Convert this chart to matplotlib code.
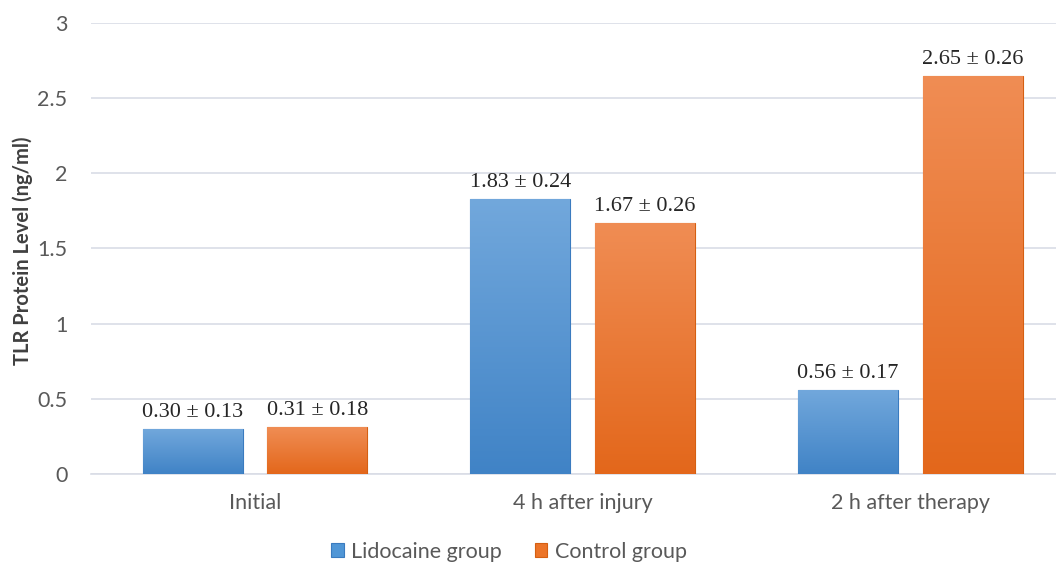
import matplotlib
matplotlib.use("Agg")
import matplotlib.pyplot as plt
import numpy as np
from matplotlib.colors import LinearSegmentedColormap

# ── data ──────────────────────────────────────────────────────────────────────
categories = ["Initial", "4 h after injury", "2 h after therapy"]
lidocaine = [0.30, 1.83, 0.56]
lidocaine_sd = [0.13, 0.24, 0.17]
control = [0.31, 1.67, 2.65]
control_sd = [0.18, 0.26, 0.26]
yticks = [0, 0.5, 1, 1.5, 2, 2.5, 3]
ytick_labels = ["0", "0.5", "1", "1.5", "2", "2.5", "3"]

# ── style ─────────────────────────────────────────────────────────────────────
SANS = ["Lato", "DejaVu Sans"]
SERIF = ["Liberation Serif", "DejaVu Serif"]
TXT = "#595959"
GRID = "#d9dde6"

fig = plt.figure(figsize=(10.56, 5.62), dpi=100)
ax = fig.add_axes([0.0862, 0.1566, 0.931, 0.8025])

x = np.arange(len(categories))
w = 0.305
off = 0.19


def gradient_bars(xpos, vals, top, bottom, edge, label):
    bars = ax.bar(xpos, vals, w, color=bottom, edgecolor=edge, linewidth=0.8,
                  label=label, zorder=3)
    cmap = LinearSegmentedColormap.from_list("g", [bottom, top])
    grad = np.linspace(0, 1, 256).reshape(-1, 1)
    for b in bars:
        x0, y0 = b.get_x(), b.get_y()
        im = ax.imshow(grad, cmap=cmap, aspect="auto", origin="lower",
                       extent=[x0, x0 + b.get_width(), y0, y0 + b.get_height()],
                       zorder=3.5, interpolation="bicubic")
        im.set_clip_path(b)
    return bars


b1 = gradient_bars(x - off, lidocaine, "#72a8dc", "#4083c6", "#3a7bbf", "Lidocaine group")
b2 = gradient_bars(x + off, control, "#f08d54", "#e3671b", "#d55f12", "Control group")

for bars, vals, sds in [(b1, lidocaine, lidocaine_sd), (b2, control, control_sd)]:
    for b, v, s in zip(bars, vals, sds):
        ax.annotate(f"{v:.2f} ± {s:.2f}", (b.get_x() + b.get_width() / 2, v),
                    xytext=(0, 5), textcoords="offset points", ha="center",
                    va="bottom", fontsize=16, family=SERIF, color="#262626",
                    zorder=5)

ax.set_xlim(-0.5, 2.5)
ax.set_ylim(0, 3)
ax.set_yticks(yticks)
ax.set_yticklabels(ytick_labels, family=SANS, fontsize=15.5, color=TXT)
ax.set_xticks(x)
ax.set_xticklabels(categories, family=SANS, fontsize=15.5, color=TXT)
ax.tick_params(length=0)
ax.tick_params(axis="y", pad=17)
ax.tick_params(axis="x", pad=14)
ax.grid(axis="y", color=GRID, linewidth=1.2, zorder=0)
for s in ["top", "right", "left"]:
    ax.spines[s].set_visible(False)
ax.spines["bottom"].set_color(GRID)
ax.spines["bottom"].set_linewidth(1.2)

ax.set_ylabel("TLR Protein Level (ng/ml)", family=SANS, fontsize=14.5,
              fontweight="bold", color="#404040")
ax.yaxis.set_label_coords(-0.059, 0.495)

handles = [plt.Rectangle((0, 0), 1, 1, facecolor=c, edgecolor=e, linewidth=0.8)
           for c, e in [("#5096d6", "#3a7bbf"), ("#ec7428", "#d55f12")]]
fig.legend(handles, ["Lidocaine group", "Control group"], loc="center",
           bbox_to_anchor=(0.482, 0.018), ncol=2, frameon=False,
           prop={"family": SANS, "size": 15.5}, labelcolor=TXT,
           handlelength=0.6, handleheight=0.6, handletextpad=0.35,
           columnspacing=1.5)

fig.savefig("out.png", dpi=100)
